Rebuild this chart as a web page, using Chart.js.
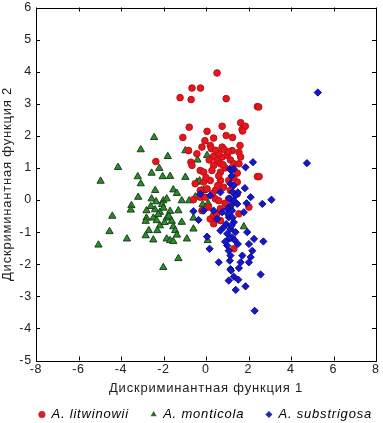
<!DOCTYPE html>
<html>
<head>
<meta charset="utf-8">
<script src="https://cdn.jsdelivr.net/npm/chart.js@4/dist/chart.umd.min.js"></script>
<style>
  html, body { margin: 0; padding: 0; background: #fff; }
  #wrap { width: 383px; height: 423px; position: relative; }
</style>
</head>
<body>
<div id="wrap"><canvas id="c" width="383" height="423"></canvas></div>
<script>
// ---- Data ----
const xLabel = "Дискриминантная функция 1";
const yLabel = "Дискриминантная функция 2";
const seriesNames = ["A. litwinowii", "A. monticola", "A. substrigosa"];
const xTicks = [-8, -6, -4, -2, 0, 2, 4, 6, 8];
const yTicks = [-5, -4, -3, -2, -1, 0, 1, 2, 3, 4, 5, 6];

const litwinowii = [
  [0.52,3.96],[-0.66,3.49],[-0.26,3.49],[-1.22,3.19],[-0.70,3.13],[0.95,3.16],[2.42,2.91],[2.48,2.90],
  [-0.79,2.27],[0.05,2.14],[0.76,2.30],[1.63,2.41],[1.78,2.27],[1.70,2.20],[1.85,2.30],[1.72,2.15],
  [-1.09,1.95],[0.36,1.93],[0.95,2.01],
  [-0.19,1.65],[0.20,1.70],[0.25,1.60],[0.76,1.65],[0.85,1.58],[1.23,1.54],[1.55,1.49],[-0.82,1.54],
  [-0.43,1.44],[0.36,1.36],[0.76,1.34],[1.00,1.39],[0.52,1.23],[1.15,1.25],[1.63,1.34],[-0.71,1.18],
  [-0.66,1.08],[-2.36,1.20],[0.36,1.08],[0.68,1.13],[1.31,1.13],[1.55,1.13],[-0.27,0.92],[-0.11,0.87],
  [0.28,0.92],[0.68,0.87],[1.47,0.84],[2.42,0.73],[2.50,0.73],[-0.51,0.51],[-0.11,0.56],[0.20,0.61],
  [0.68,0.61],[1.07,0.61],[1.47,0.56],[-0.27,0.30],[0.05,0.35],[0.44,0.30],[0.83,0.40],[1.15,0.30],
  [1.47,0.19],[-0.59,0.01],[-0.27,0.09],[-0.03,0.09],[0.44,0.04],[0.60,-0.02],[1.07,0.04],[2.02,-0.22],
  [-0.19,-0.33],[0.12,-0.22],[0.68,-0.27],[1.15,-0.22],[1.55,-0.43],[0.20,-0.59],[0.36,-0.74],
  [0.68,-0.64],[0.36,-0.48],[1.31,-1.52],
  [0.90,1.00],[0.60,0.75],[1.30,0.70],[0.00,0.70],[0.30,0.20],[0.90,-0.10],[0.50,-0.45],[1.60,1.70],
  [0.60,1.45],[1.05,1.50],[0.45,1.55],[0.80,1.10],[0.15,1.25],[-0.05,1.85],[1.25,1.95],[0.55,0.45]
];

const monticola = [
  [-2.44,1.95],[-3.07,1.57],[-1.80,1.36],[-0.97,1.54],[0.05,1.39],[-0.40,1.25],[-4.14,1.02],[-2.20,0.99],
  [-2.56,0.84],[-2.04,0.73],[-1.69,0.74],[-3.21,0.73],[-0.97,0.71],[-4.96,0.59],[-3.07,0.51],[-0.43,0.56],
  [-2.39,0.30],[-1.54,0.32],[-1.37,0.21],[-0.11,0.30],[-3.19,0.09],[-2.56,0.04],[-2.01,-0.02],[-1.85,0.04],
  [-1.14,-0.02],[-0.79,-0.02],[-3.51,-0.17],[-3.54,-0.31],[-0.16,-0.14],[-2.80,-0.33],[-2.40,-0.30],
  [-2.07,-0.14],[-2.17,-0.38],[-1.69,-0.35],[-1.30,-0.33],[-4.41,-0.50],[-2.80,-0.56],[-2.48,-0.56],
  [-2.32,-0.64],[-2.84,-0.66],[-1.85,-0.56],[-1.61,-0.66],[-1.14,-0.69],[-0.59,-0.56],[-2.17,-0.80],
  [-1.54,-0.83],[-4.54,-0.98],[-2.69,-0.95],[-2.29,-0.95],[-1.45,-0.95],[-0.59,-0.90],[-1.37,-1.09],
  [-2.84,-1.11],[-1.85,-1.21],[-3.72,-1.21],[-2.48,-1.24],[-1.69,-1.26],[-1.54,-1.29],[-0.90,-1.21],
  [0.08,-1.26],[-5.06,-1.40],[1.78,-0.83],[1.07,-1.21],[-1.30,-1.82],[-2.01,-2.10],
  [-0.30,0.60],[0.10,-0.10],[-0.20,0.30],[-2.25,-0.45],[-2.00,-0.25],[-2.60,-0.20],[-1.95,-0.70],
  [-2.35,-0.05],[-1.75,-0.50],[-0.50,0.10]
];

const substrigosa = [
  [5.26,3.35],[2.21,1.18],[4.75,1.15],[1.86,1.02],[1.12,0.97],[1.18,0.92],[1.31,0.97],[1.15,0.51],
  [1.83,0.37],[1.50,0.24],[1.39,0.14],[2.10,0.09],[2.65,-0.12],[3.08,0.01],[-0.27,0.19],[0.20,0.14],
  [0.68,0.24],[1.31,-0.02],[1.47,-0.12],[1.91,-0.10],[-0.59,-0.35],[-0.11,-0.33],[0.36,-0.33],
  [0.76,-0.38],[1.00,-0.27],[1.23,-0.33],[1.78,-0.38],[-0.35,-0.62],[0.52,-0.59],[1.07,-0.54],
  [1.31,-0.69],[0.83,-0.85],[1.15,-0.90],[1.39,-1.00],[0.68,-0.95],[1.00,-1.05],[1.23,-1.16],
  [0.05,-1.14],[1.94,-1.00],[2.26,-1.21],[2.70,-1.29],[2.02,-1.37],[0.17,-1.52],[1.00,-1.42],
  [1.50,-1.37],[1.07,-1.58],[2.18,-1.58],[1.15,-1.73],[1.71,-1.73],[2.10,-1.78],[0.60,-1.94],
  [1.12,-1.89],[1.63,-1.94],[2.02,-1.94],[1.15,-2.15],[1.55,-2.12],[1.18,-2.20],[2.57,-2.32],
  [1.31,-2.39],[1.07,-2.51],[1.52,-2.48],[1.86,-2.69],[1.40,-2.80],[2.29,-3.45],
  [1.20,0.75],[1.30,0.45],[1.25,0.25],[1.10,0.05],[1.20,-0.15],[1.05,-0.45],[1.25,-0.55],
  [0.95,-0.75],[1.20,-0.80],[1.10,-1.20],[1.35,-1.25],[0.90,-1.30]
];

const toPoints = arr => arr.map(p => ({x: p[0], y: p[1]}));

const SPACING = '0.8px';
const textSpacing = {
  id: 'textSpacing',
  beforeUpdate(chart) { chart.ctx.letterSpacing = SPACING; },
  beforeLayout(chart) { chart.ctx.letterSpacing = SPACING; },
  beforeDraw(chart) { chart.ctx.letterSpacing = SPACING; }
};

const frameAndTicks = {
  id: 'frameAndTicks',
  afterDatasetsDraw(chart) {
    const {ctx, chartArea: a, scales: {x, y}} = chart;
    ctx.save();
    ctx.strokeStyle = '#000';
    ctx.lineWidth = 1;
    ctx.strokeRect(Math.round(a.left) + 0.5, Math.round(a.top) + 0.5,
                   Math.round(a.right - a.left), Math.round(a.bottom - a.top));
    const L = 4;
    ctx.beginPath();
    xTicks.forEach(v => {
      const px = Math.round(x.getPixelForValue(v)) + 0.5;
      ctx.moveTo(px, a.bottom); ctx.lineTo(px, a.bottom - L);
      ctx.moveTo(px, a.top); ctx.lineTo(px, a.top + L);
    });
    yTicks.forEach(v => {
      const py = Math.round(y.getPixelForValue(v)) + 0.5;
      ctx.moveTo(a.left, py); ctx.lineTo(a.left + L, py);
      ctx.moveTo(a.right, py); ctx.lineTo(a.right - L, py);
    });
    ctx.stroke();
    ctx.restore();
  }
};

Chart.defaults.font.family = "'Liberation Sans', Arial, sans-serif";
Chart.defaults.font.size = 13;
Chart.defaults.color = '#222';

const zeroPad = s => { s.paddingTop = 0; s.paddingBottom = 0; s.paddingLeft = 0; s.paddingRight = 0; };

new Chart(document.getElementById('c'), {
  type: 'scatter',
  data: {
    datasets: [
      {
        label: seriesNames[0], data: toPoints(litwinowii), order: 2,
        pointStyle: 'circle', pointRadius: 3.3, pointHoverRadius: 3.3,
        backgroundColor: '#e8161c', borderColor: '#b81018', borderWidth: 1
      },
      {
        label: seriesNames[1], data: toPoints(monticola), order: 3,
        pointStyle: 'triangle', pointRadius: 4.2, pointHoverRadius: 4.2,
        backgroundColor: '#2a8c2a', borderColor: '#1b3f1b', borderWidth: 1
      },
      {
        label: seriesNames[2], data: toPoints(substrigosa), order: 1,
        pointStyle: 'rectRot', pointRadius: 3.6, pointHoverRadius: 3.6,
        backgroundColor: '#1616d0', borderColor: '#0c0c88', borderWidth: 1
      }
    ]
  },
  options: {
    responsive: false,
    animation: false,
    events: [],
    layout: { padding: { top: 7.5, right: 7, left: 0, bottom: -8 } },
    plugins: {
      tooltip: { enabled: false },
      legend: {
        position: 'bottom',
        align: 'end',
        labels: {
          usePointStyle: true,
          boxHeight: 5, boxWidth: 6,
          padding: 4,
          font: { style: 'italic', size: 13 },
          color: '#111',
          sort: (a, b) => a.datasetIndex - b.datasetIndex,
          generateLabels(chart) {
            const cols = ['#d42026', '#2d6b2d', '#2525b0'];
            const styles = ['circle', 'triangle', 'rectRot'];
            const n = chart.data.datasets.length;
            return chart.data.datasets.map((d, i) => ({
              text: d.label + (i < n - 1 ? '    ' : ''),
              fillStyle: cols[i], strokeStyle: cols[i], lineWidth: 0,
              pointStyle: styles[i], datasetIndex: i, hidden: false
            }));
          }
        }
      }
    },
    scales: {
      x: {
        type: 'linear', min: -8, max: 8,
        afterBuildTicks: s => { s.ticks = xTicks.map(v => ({value: v})); },
        afterFit: s => { s.height = 43.5; zeroPad(s); },
        grid: { display: false, drawTicks: false },
        border: { display: false },
        ticks: { padding: 2, color: '#222', font: { size: 12.5 } },
        title: { display: true, text: xLabel, color: '#222', font: { size: 13 }, padding: { top: 0, bottom: 8 } }
      },
      y: {
        type: 'linear', min: -5, max: 6,
        afterBuildTicks: s => { s.ticks = yTicks.map(v => ({value: v})); },
        afterFit: s => { s.width = 36; zeroPad(s); },
        grid: { display: false, drawTicks: false },
        border: { display: false },
        ticks: { padding: 4, color: '#222', font: { size: 12.5 } },
        title: { display: true, text: yLabel, color: '#222', font: { size: 13 }, padding: { top: 0, bottom: 0 } }
      }
    }
  },
  plugins: [textSpacing, frameAndTicks]
});
</script>
</body>
</html>
